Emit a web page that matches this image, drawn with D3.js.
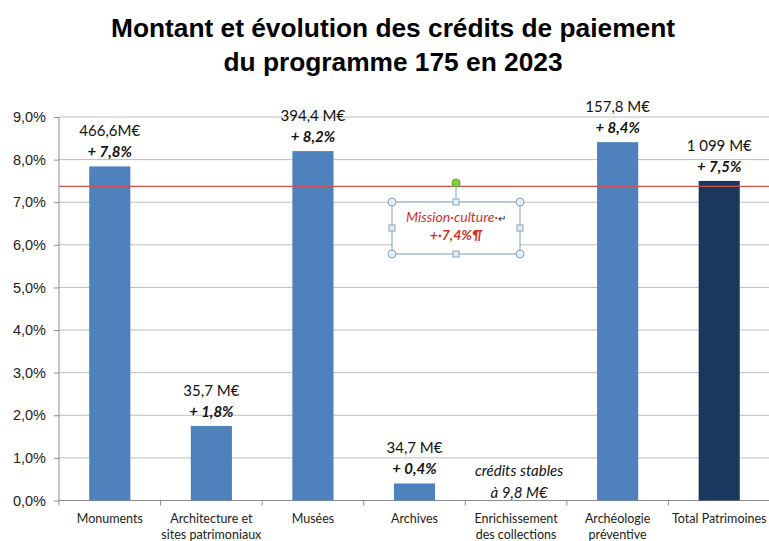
<!DOCTYPE html>
<html>
<head>
<meta charset="utf-8">
<script src="https://cdn.jsdelivr.net/npm/d3@7"></script>
<style>
  body { margin: 0; background: #fff; }
  svg { display: block; }
  text { font-family: Lato, "Liberation Sans", sans-serif; }
</style>
</head>
<body>
<svg id="chart" width="769" height="541"></svg>
<script>
// data
const categories = ['Monuments', 'Architecture et|sites patrimoniaux', 'Musées', 'Archives',
  'Enrichissement|des collections', 'Archéologie|préventive', 'Total Patrimoines']
const evolution = [7.84, 1.75, 8.2, 0.4, 0, 8.41, 7.5]
const amounts = ['466,6M€', '35,7 M€', '394,4 M€', '34,7 M€', null, '157,8 M€', '1 099 M€']
const evolutionLabels = ['+ 7,8%', '+ 1,8%', '+ 8,2%', '+ 0,4%', null, '+ 8,4%', '+ 7,5%']
const stableNote = ['crédits stables', 'à 9,8 M€']
const missionCulture = 7.37
const yTicks = [0, 1, 2, 3, 4, 5, 6, 7, 8, 9]

const svg = d3.select('#chart')
const plotLeft = 59, plotRight = 770, plotTop = 117, plotBottom = 500.5

const x = d3.scaleBand().domain(categories).range([plotLeft, plotRight]).paddingInner(0).paddingOuter(0)
const y = d3.scaleLinear().domain([0, 9]).range([plotBottom, plotTop])
const barW = x.bandwidth() * 0.405

// title
svg.append('text').attr('x', 393).attr('y', 36.5).attr('text-anchor', 'middle')
  .style('font-family', '"Liberation Sans", Arial, sans-serif')
  .style('font-weight', 'bold').style('font-size', '26.3px')
  .text('Montant et évolution des crédits de paiement')
svg.append('text').attr('x', 393).attr('y', 71).attr('text-anchor', 'middle')
  .style('font-family', '"Liberation Sans", Arial, sans-serif')
  .style('font-weight', 'bold').style('font-size', '26.3px')
  .text('du programme 175 en 2023')

// gridlines
svg.append('g').selectAll('line').data(yTicks.slice(1)).enter().append('line')
  .attr('x1', plotLeft).attr('x2', plotRight)
  .attr('y1', d => y(d)).attr('y2', d => y(d))
  .attr('stroke', '#bdbdbd').attr('stroke-width', 1)

// y axis
const yAxis = d3.axisLeft(y).tickValues(yTicks).tickSize(5).tickPadding(8)
  .tickFormat(d => d3.format('.1f')(d).replace('.', ',') + '%')
const gy = svg.append('g').attr('transform', `translate(${plotLeft},0)`).call(yAxis)
gy.selectAll('path, line').attr('stroke', '#8c8c8c')
gy.select('.domain').attr('d', `M0,${plotTop}V${plotBottom}`)
gy.selectAll('text').style('font-size', '14.5px').attr('fill', '#222')
  .style('font-family', '"Liberation Sans", Arial, sans-serif')

// x axis
const gx = svg.append('g').attr('transform', `translate(0,${plotBottom})`)
gx.append('line').attr('x1', plotLeft).attr('x2', plotRight).attr('stroke', '#8c8c8c')
gx.selectAll('line.tick').data(categories).enter().append('line').attr('class', 'tick')
  .attr('x1', d => x(d)).attr('x2', d => x(d)).attr('y1', 0).attr('y2', 5)
  .attr('stroke', '#8c8c8c')
gx.selectAll('text.cat').data(categories).enter().append('text').attr('class', 'cat')
  .attr('text-anchor', 'middle').attr('fill', '#222').style('font-size', '12.5px')
  .each(function (d) {
    const t = d3.select(this)
    d.split('|').forEach((line, i) => {
      t.append('tspan').attr('x', x(d) + x.bandwidth() / 2).attr('y', 22 + i * 16).text(line)
    })
  })

// bars
svg.append('g').selectAll('rect').data(categories).enter().append('rect')
  .attr('x', d => x(d) + (x.bandwidth() - barW) / 2)
  .attr('width', barW)
  .attr('y', (d, i) => y(evolution[i]))
  .attr('height', (d, i) => plotBottom - y(evolution[i]))
  .attr('fill', (d, i) => i === categories.length - 1 ? '#1a375e' : '#4f81bd')

// mission culture line
svg.append('line').attr('x1', plotLeft).attr('x2', plotRight)
  .attr('y1', y(missionCulture)).attr('y2', y(missionCulture))
  .attr('stroke', '#d0504e').attr('stroke-width', 1.3)

// value labels
const labels = svg.append('g').selectAll('g').data(categories).enter().append('g')
  .filter((d, i) => amounts[i] !== null)
labels.append('text').attr('text-anchor', 'middle').style('font-size', '15px').attr('fill', '#111')
  .attr('x', d => x(d) + x.bandwidth() / 2)
  .attr('y', d => y(evolution[categories.indexOf(d)]) - 30)
  .text(d => amounts[categories.indexOf(d)])
labels.append('text').attr('text-anchor', 'middle').style('font-size', '15px')
  .style('font-weight', 'bold').style('font-style', 'italic').attr('fill', '#111')
  .attr('x', d => x(d) + x.bandwidth() / 2)
  .attr('y', d => y(evolution[categories.indexOf(d)]) - 9)
  .text(d => evolutionLabels[categories.indexOf(d)])

// note for the empty category
const cx = x(categories[4]) + x.bandwidth() / 2
svg.append('g').selectAll('text').data(stableNote).enter().append('text')
  .attr('x', cx + 3).attr('y', (d, i) => 476 + i * 22).attr('text-anchor', 'middle')
  .style('font-size', '15px').style('font-style', 'italic').attr('fill', '#111')
  .text(d => d)

// selected text box "Mission culture"
const bx = 392, by = 202, bw = 128, bh = 52
const box = svg.append('g')
box.append('line').attr('x1', bx + bw / 2).attr('x2', bx + bw / 2).attr('y1', 183).attr('y2', by)
  .attr('stroke', '#7f9bbd')
box.append('rect').attr('x', bx).attr('y', by).attr('width', bw).attr('height', bh)
  .attr('fill', '#fff').attr('stroke', '#7f9bbd').attr('stroke-width', 1)
box.append('text').attr('x', bx + bw / 2).attr('y', 222).attr('text-anchor', 'middle')
  .style('font-size', '14px').style('font-style', 'italic').attr('fill', '#d0312d')
  .text('Mission·culture·')
  .append('tspan').attr('fill', '#222').style('font-style', 'normal').style('font-size', '10px').text('↵')
box.append('text').attr('x', bx + bw / 2).attr('y', 240).attr('text-anchor', 'middle')
  .style('font-size', '14px').style('font-style', 'italic').style('font-weight', 'bold')
  .attr('fill', '#d0312d').text('+·7,4%¶')
const corners = [[bx, by], [bx + bw, by], [bx, by + bh], [bx + bw, by + bh]]
const mids = [[bx + bw / 2, by], [bx + bw / 2, by + bh], [bx, by + bh / 2], [bx + bw, by + bh / 2]]
box.selectAll('circle.h').data(corners).enter().append('circle').attr('class', 'h')
  .attr('cx', d => d[0]).attr('cy', d => d[1]).attr('r', 4)
  .attr('fill', '#e4eef6').attr('stroke', '#8aa3bd')
box.selectAll('rect.h').data(mids).enter().append('rect').attr('class', 'h')
  .attr('x', d => d[0] - 3).attr('y', d => d[1] - 3).attr('width', 6).attr('height', 6)
  .attr('fill', '#e4eef6').attr('stroke', '#8aa3bd')
box.append('circle').attr('cx', bx + bw / 2).attr('cy', 183).attr('r', 4)
  .attr('fill', '#7ed23a').attr('stroke', '#5aa02a')
</script>
</body>
</html>
